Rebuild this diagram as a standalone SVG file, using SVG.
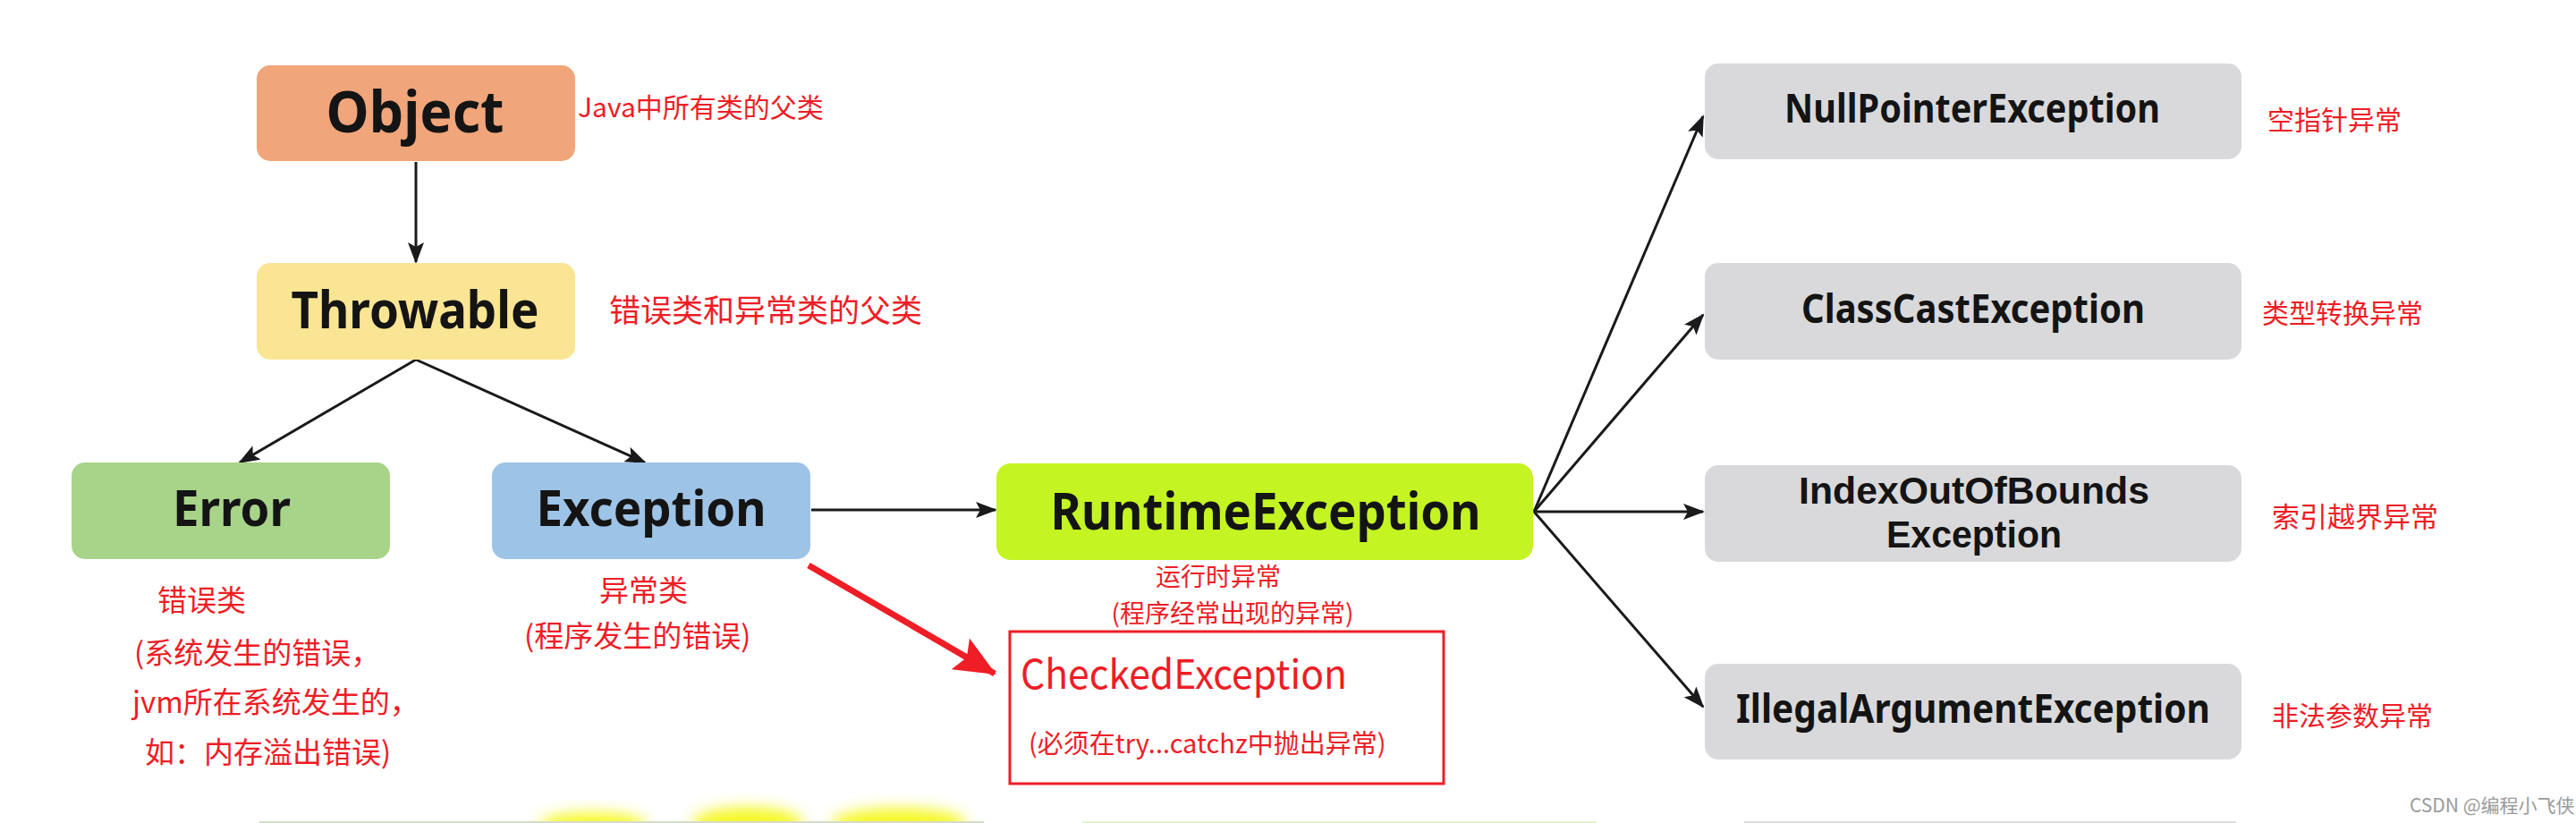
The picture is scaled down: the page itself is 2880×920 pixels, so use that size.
<svg xmlns="http://www.w3.org/2000/svg" width="2880" height="920" viewBox="0 0 2880 920">
<style>
.node{font-family:"Noto Sans","Open Sans","Liberation Sans",sans-serif;font-weight:700;fill:#141414;text-anchor:middle}
.lbl{font-family:"Noto Sans CJK SC","Noto Sans",sans-serif;fill:#EE1D26}
.ln{stroke:#1a1a1a;stroke-width:3;fill:none}
.red{stroke:#EE1D26;stroke-width:7;fill:none}
</style>
<defs>
<marker id="ah" markerUnits="userSpaceOnUse" markerWidth="24" markerHeight="18" refX="22" refY="9" orient="auto">
<path d="M0,0 L24,9 L0,18 L5,9 Z" fill="#1a1a1a"/>
</marker>
<marker id="rh" markerUnits="userSpaceOnUse" markerWidth="46" markerHeight="40" refX="44" refY="20" orient="auto">
<path d="M0,0 L46,20 L0,40 L8,20 Z" fill="#EE1D26"/>
</marker>
<filter id="soft" x="-20%" y="-50%" width="140%" height="200%"><feGaussianBlur stdDeviation="8"/></filter>
</defs>
<rect width="2880" height="920" fill="#ffffff"/>

<g id="connectors">
<line class="ln" x1="465" y1="181" x2="465" y2="293" marker-end="url(#ah)"/>
<line class="ln" x1="465" y1="402" x2="268" y2="517" marker-end="url(#ah)"/>
<line class="ln" x1="465" y1="402" x2="721" y2="517" marker-end="url(#ah)"/>
<line class="ln" x1="907" y1="570" x2="1113" y2="570" marker-end="url(#ah)"/>
<line class="ln" x1="1715" y1="572" x2="1904" y2="130" marker-end="url(#ah)"/>
<line class="ln" x1="1715" y1="572" x2="1904" y2="352" marker-end="url(#ah)"/>
<line class="ln" x1="1715" y1="572" x2="1904" y2="572" marker-end="url(#ah)"/>
<line class="ln" x1="1715" y1="572" x2="1904" y2="790" marker-end="url(#ah)"/>
<line class="red" x1="904" y1="632" x2="1112" y2="753" marker-end="url(#rh)"/>
</g>

<g id="object">
<rect x="287" y="73" width="356" height="107" rx="15" fill="#F0A57A"/>
<text class="node" x="464" y="148" font-size="64" textLength="199" lengthAdjust="spacingAndGlyphs">Object</text>
</g>
<text class="lbl" x="646" y="131" font-size="30">Java中所有类的父类</text>

<g id="throwable">
<rect x="287" y="294" width="356" height="108" rx="15" fill="#FAE594"/>
<text class="node" x="464" y="367" font-size="58" textLength="277" lengthAdjust="spacingAndGlyphs">Throwable</text>
</g>
<text class="lbl" x="681" y="360" font-size="35">错误类和异常类的父类</text>

<g id="error">
<rect x="80" y="517" width="356" height="108" rx="15" fill="#A8D48A"/>
<text class="node" x="259" y="588" font-size="56" textLength="132" lengthAdjust="spacingAndGlyphs">Error</text>
</g>
<text class="lbl" font-size="33"><tspan x="176" y="683">错误类</tspan><tspan x="150" y="742">(系统发生的错误，</tspan><tspan x="148" y="797">jvm所在系统发生的，</tspan><tspan x="162" y="853">如：内存溢出错误)</tspan></text>

<g id="exception">
<rect x="550" y="517" width="356" height="108" rx="15" fill="#9DC3E6"/>
<text class="node" x="728" y="588" font-size="56" textLength="257" lengthAdjust="spacingAndGlyphs">Exception</text>
</g>
<text class="lbl" font-size="33"><tspan x="670" y="672">异常类</tspan><tspan x="586" y="723">(程序发生的错误)</tspan></text>

<g id="runtime">
<rect x="1114" y="518" width="600" height="108" rx="16" fill="#C4F523"/>
<text class="node" x="1415" y="592" font-size="58" textLength="481" lengthAdjust="spacingAndGlyphs">RuntimeException</text>
</g>
<text class="lbl" font-size="28" text-anchor="middle"><tspan x="1362" y="655">运行时异常</tspan><tspan x="1378" y="696">(程序经常出现的异常)</tspan></text>

<g id="checked">
<rect x="1129" y="706" width="485" height="170" fill="none" stroke="#EE1D26" stroke-width="3"/>
<text class="lbl" x="1141" y="770" font-size="45" textLength="365" lengthAdjust="spacingAndGlyphs">CheckedException</text>
<text class="lbl" x="1150" y="842" font-size="29">(必须在try...catchz中抛出异常)</text>
</g>

<g id="nullpointer">
<rect x="1906" y="71" width="600" height="107" rx="15" fill="#D9D9DB"/>
<text class="node" x="2205" y="137" font-size="44" textLength="420" lengthAdjust="spacingAndGlyphs">NullPointerException</text>
</g>
<text class="lbl" x="2535" y="145" font-size="30">空指针异常</text>

<g id="classcast">
<rect x="1906" y="294" width="600" height="108" rx="15" fill="#D9D9DB"/>
<text class="node" x="2206" y="361" font-size="44" textLength="384" lengthAdjust="spacingAndGlyphs">ClassCastException</text>
</g>
<text class="lbl" x="2529" y="361" font-size="30">类型转换异常</text>

<g id="indexoutofbounds">
<rect x="1906" y="520" width="600" height="108" rx="15" fill="#D9D9DB"/>
<text class="node" font-size="42" style="font-family:'Liberation Sans',Arial,sans-serif"><tspan x="2207" y="563" textLength="392" lengthAdjust="spacingAndGlyphs">IndexOutOfBounds</tspan><tspan x="2207" y="612" textLength="196" lengthAdjust="spacingAndGlyphs">Exception</tspan></text>
</g>
<text class="lbl" x="2540" y="589" font-size="31">索引越界异常</text>

<g id="illegalargument">
<rect x="1906" y="742" width="600" height="107" rx="15" fill="#D9D9DB"/>
<text class="node" x="2206" y="808" font-size="44" textLength="530" lengthAdjust="spacingAndGlyphs">IllegalArgumentException</text>
</g>
<text class="lbl" x="2540" y="811" font-size="30">非法参数异常</text>

<text x="2694" y="908" font-family="Noto Sans CJK SC, Noto Sans, sans-serif" font-size="21" fill="#9a9a9a">CSDN @编程小飞侠</text>

<g id="bottom-edge">
<ellipse cx="663" cy="922" rx="60" ry="14" fill="#F6F82A" filter="url(#soft)"/>
<ellipse cx="836" cy="920" rx="62" ry="18" fill="#F6F82A" filter="url(#soft)"/>
<ellipse cx="1005" cy="920" rx="75" ry="17" fill="#F6F82A" filter="url(#soft)"/>
<line x1="290" y1="919" x2="1100" y2="919" stroke="#d4dcc8" stroke-width="2"/>
<line x1="1210" y1="919" x2="1785" y2="919" stroke="#e4f2c8" stroke-width="2"/>
<line x1="1950" y1="919" x2="2500" y2="919" stroke="#dddddd" stroke-width="2"/>
</g>
</svg>
